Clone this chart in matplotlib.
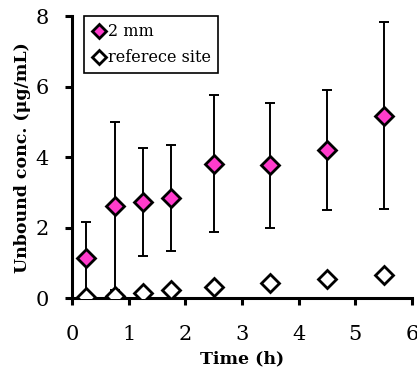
import matplotlib
matplotlib.use("Agg")
from matplotlib import pyplot as plt

# data
t = [0.25, 0.75, 1.25, 1.75, 2.5, 3.5, 4.5, 5.5]
conc_2mm = [1.15, 2.62, 2.72, 2.85, 3.82, 3.77, 4.20, 5.18]
err_2mm = [1.00, 2.38, 1.53, 1.50, 1.93, 1.77, 1.70, 2.66]
conc_ref = [0.02, 0.06, 0.14, 0.22, 0.32, 0.42, 0.54, 0.67]

plt.rcParams['font.family'] = ['DejaVu Serif']

fig = plt.figure(figsize=(4.17, 3.76), dpi=100)
ax = fig.add_axes([0.173, 0.207, 0.815, 0.75])

ax.errorbar(t, conc_2mm, yerr=err_2mm, fmt='none', ecolor='black',
            elinewidth=1.4, capsize=3.5, capthick=1.4, zorder=2)
ax.plot(t, conc_2mm, 'D', color='#ff3ccc', markeredgecolor='black',
        markersize=9, markeredgewidth=2, label='2 mm', zorder=3)
ax.plot(t, conc_ref, 'D', color='white', markeredgecolor='black',
        markersize=9, markeredgewidth=2, label='referece site', zorder=3)

ax.set_xlim(0, 6)
ax.set_ylim(0, 8)
ax.set_xticks(range(0, 7))
ax.set_yticks([0, 2, 4, 6, 8])
ax.spines['top'].set_visible(False)
ax.spines['right'].set_visible(False)
ax.spines['left'].set_linewidth(2.2)
ax.spines['bottom'].set_linewidth(2.2)
ax.tick_params(width=2.2, length=5, labelsize=15)
ax.tick_params(axis='x', pad=14)
ax.tick_params(axis='y', pad=12)

ax.set_xlabel('Time (h)', fontsize=12.5, fontweight='bold', labelpad=5)
ax.set_ylabel('Unbound conc. (μg/mL)', fontsize=12.5, fontweight='bold', labelpad=3)

leg = ax.legend(loc='upper left', bbox_to_anchor=(0.035, 1.0), borderaxespad=0,
                fontsize=11.5, handletextpad=0.05, handlelength=1.0,
                borderpad=0.45, labelspacing=0.55,
                fancybox=False, edgecolor='black', framealpha=1,
                markerscale=0.75)
leg.get_frame().set_linewidth(1.2)

plt.savefig('out.png', dpi=100)
